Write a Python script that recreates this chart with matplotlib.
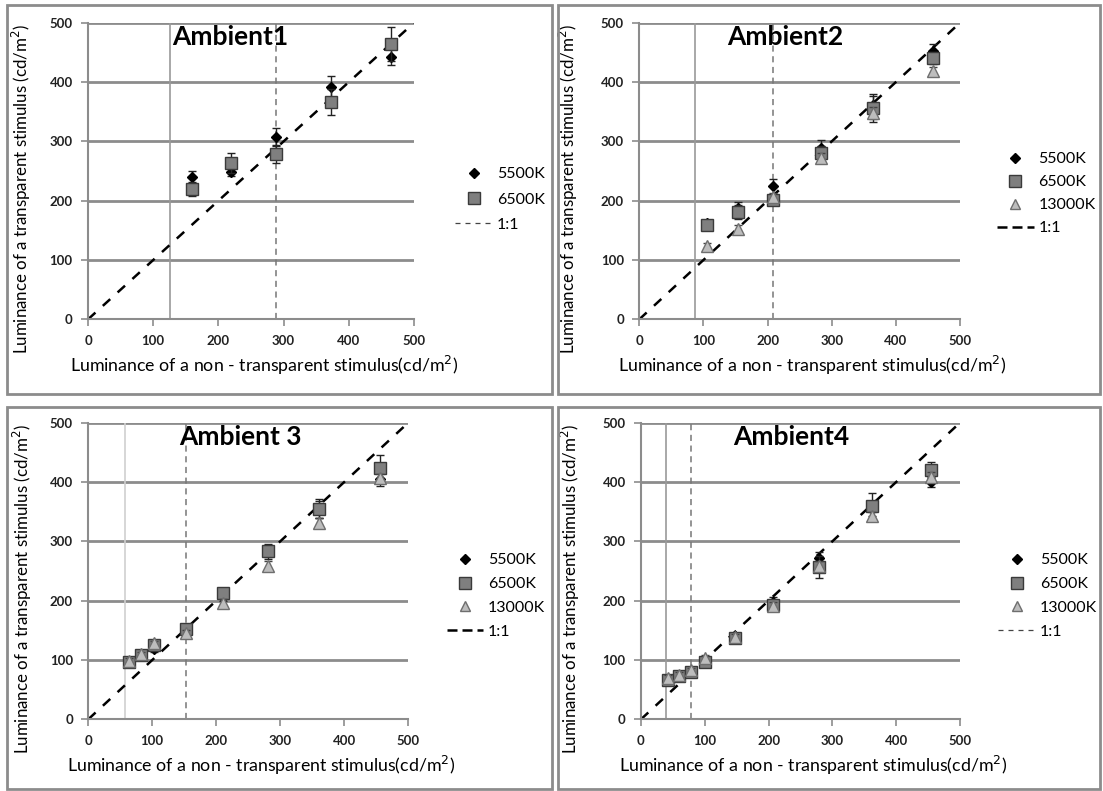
import matplotlib.pyplot as plt
from matplotlib.patches import Rectangle
from matplotlib.lines import Line2D

plt.rcParams['font.family'] = ['Lato', 'DejaVu Sans']

# Ambient1
a1_x = [159, 219, 289, 372, 464]
a1_5500 = [240, 249, 308, 392, 443]
a1_5500_err = [10, 8, 14, 19, 14]
a1_6500 = [220, 264, 278, 367, 464]
a1_6500_err = [12, 17, 15, 22, 28]

# Ambient2
a2_x = [106, 154, 208, 283, 365, 458]
a2_5500 = [162, 188, 224, 288, 362, 452]
a2_5500_err = [6, 10, 12, 14, 14, 12]
a2_6500 = [159, 181, 201, 280, 356, 440]
a2_6500_err = [8, 12, 8, 12, 24, 10]
a2_13000 = [123, 153, 207, 272, 348, 418]
a2_13000_err = [6, 6, 6, 8, 10, 8]

# Ambient 3
a3_x = [64, 82, 103, 152, 210, 281, 361, 456]
a3_5500 = [97, 106, 118, 150, 206, 284, 356, 405]
a3_5500_err = [5, 5, 5, 6, 6, 10, 16, 12]
a3_6500 = [96, 108, 126, 152, 213, 283, 354, 423]
a3_6500_err = [6, 6, 7, 6, 6, 12, 14, 22]
a3_13000 = [99, 110, 128, 146, 196, 259, 331, 406]
a3_13000_err = [4, 4, 4, 5, 6, 8, 8, 8]

# Ambient4
a4_x = [43, 60, 79, 100, 147, 207, 279, 362, 454]
a4_5500 = [68, 72, 82, 99, 140, 198, 272, 355, 400]
a4_5500_err = [4, 4, 5, 5, 6, 8, 10, 12, 8]
a4_6500 = [67, 73, 80, 97, 137, 193, 257, 359, 420]
a4_6500_err = [4, 4, 5, 6, 6, 8, 18, 22, 14]
a4_13000 = [70, 75, 83, 104, 139, 191, 259, 342, 409]
a4_13000_err = [4, 4, 4, 5, 5, 6, 8, 8, 8]

panels = [
    dict(title='Ambient1', x=a1_x, s5500=a1_5500, e5500=a1_5500_err, s6500=a1_6500, e6500=a1_6500_err,
         s13000=None, e13000=None, vsolid=126, vdash=289, solid_c='#9a9a9a', thin_leg=True,
         pos=[0.0798, 0.5963, 0.2956, 0.375], tx=0.435, leg=(1.126, 0.404), lsp=0.7, ylx=-0.168),
    dict(title='Ambient2', x=a2_x, s5500=a2_5500, e5500=a2_5500_err, s6500=a2_6500, e6500=a2_6500_err,
         s13000=a2_13000, e13000=a2_13000_err, vsolid=87, vdash=208, solid_c='#9a9a9a', thin_leg=False,
         pos=[0.5796, 0.5963, 0.2908, 0.375], tx=0.456, leg=(1.115, 0.424), lsp=0.55, ylx=-0.185),
    dict(title='Ambient 3', x=a3_x, s5500=a3_5500, e5500=a3_5500_err, s6500=a3_6500, e6500=a3_6500_err,
         s13000=a3_13000, e13000=a3_13000_err, vsolid=57, vdash=152, solid_c='#cfcfcf', thin_leg=False,
         pos=[0.0800, 0.0906, 0.2901, 0.375], tx=0.477, leg=(1.12, 0.416), lsp=0.6, ylx=-0.17),
    dict(title='Ambient4', x=a4_x, s5500=a4_5500, e5500=a4_5500_err, s6500=a4_6500, e6500=a4_6500_err,
         s13000=a4_13000, e13000=a4_13000_err, vsolid=39, vdash=78, solid_c='#9a9a9a', thin_leg=True,
         pos=[0.5811, 0.0906, 0.2892, 0.375], tx=0.47, leg=(1.12, 0.416), lsp=0.6, ylx=-0.185),
]

fig = plt.figure(figsize=(11.03, 7.91), dpi=100)

# panel frames
for (x0, y0, x1, y1) in [(7, 5, 552, 394), (558, 5, 1100, 394), (7, 407, 552, 789), (558, 407, 1100, 789)]:
    fig.patches.append(Rectangle((x0 / 1103, 1 - y1 / 791), (x1 - x0) / 1103, (y1 - y0) / 791,
                                 transform=fig.transFigure, fill=False, edgecolor='#8c8c8c', linewidth=2))

for p in panels:
    ax = fig.add_axes(p['pos'])
    ax.set_xlim(0, 500)
    ax.set_ylim(0, 500)
    ax.set_xticks(range(0, 501, 100))
    ax.set_yticks(range(0, 501, 100))
    ax.yaxis.grid(True, color='#8c8c8c', linewidth=2)
    ax.set_axisbelow(True)
    for s in ['top', 'right']:
        ax.spines[s].set_visible(False)
    for s in ['left', 'bottom']:
        ax.spines[s].set_color('#8c8c8c')
        ax.spines[s].set_linewidth(1.5)
    ax.tick_params(direction='out', length=5, color='#8c8c8c', width=1.2, labelsize=9.5, pad=6)
    for lab in ax.get_xticklabels() + ax.get_yticklabels():
        lab.set_fontweight('bold')
        lab.set_color('#222222')

    ax.axvline(p['vsolid'], color=p['solid_c'], linewidth=1.2, zorder=1)
    ax.axvline(p['vdash'], color='#777777', linewidth=1.1, linestyle=(0, (4, 3)), zorder=1)

    ax.plot([0, 500], [0, 500], color='black', linewidth=1.8, linestyle=(0, (4, 4)), zorder=2)

    ax.errorbar(p['x'], p['s5500'], yerr=p['e5500'], fmt='D', color='black', markersize=5,
                ecolor='#222222', elinewidth=1, capsize=3, zorder=3)
    ax.errorbar(p['x'], p['s6500'], yerr=p['e6500'], fmt='s', color='#7f7f7f', markeredgecolor='#3a3a3a',
                markersize=9, ecolor='#222222', elinewidth=1, capsize=3, zorder=4)
    handles = [
        Line2D([], [], marker='D', color='black', linestyle='none', markersize=5, label='5500K'),
        Line2D([], [], marker='s', color='#7f7f7f', markeredgecolor='#3a3a3a', linestyle='none',
               markersize=9, label='6500K'),
    ]
    if p['s13000'] is not None:
        ax.errorbar(p['x'], p['s13000'], yerr=p['e13000'], fmt='^', color='#bdbdbd', markeredgecolor='#6e6e6e',
                    markersize=8, ecolor='#444444', elinewidth=1, capsize=3, zorder=5)
        handles.append(Line2D([], [], marker='^', color='#bdbdbd', markeredgecolor='#6e6e6e',
                              linestyle='none', markersize=7, label='13000K'))
    if p['thin_leg']:
        handles.append(Line2D([], [], color='#444444', linewidth=0.9, linestyle=(0, (4, 4)), label='1:1'))
    else:
        handles.append(Line2D([], [], color='black', linewidth=1.8, linestyle=(0, (4, 2)), label='1:1'))

    ax.text(p['tx'], 0.953, p['title'], transform=ax.transAxes, ha='center', va='center',
            fontsize=19, fontweight='bold')
    ax.set_xlabel('Luminance of a non - transparent stimulus(cd/m$^2$)', fontsize=12.8)
    ax.set_ylabel('Luminance of a transparent stimulus (cd/m$^2$)', fontsize=12.2)
    ax.xaxis.set_label_coords(0.54, -0.117)
    ax.yaxis.set_label_coords(p['ylx'], 0.44)

    ax.legend(handles=handles, loc='center left', bbox_to_anchor=p['leg'], frameon=False, fontsize=11.5,
              labelspacing=p['lsp'], handlelength=2.3, handletextpad=0.3, borderpad=0, borderaxespad=0)

fig.savefig('out.png', dpi=100)
